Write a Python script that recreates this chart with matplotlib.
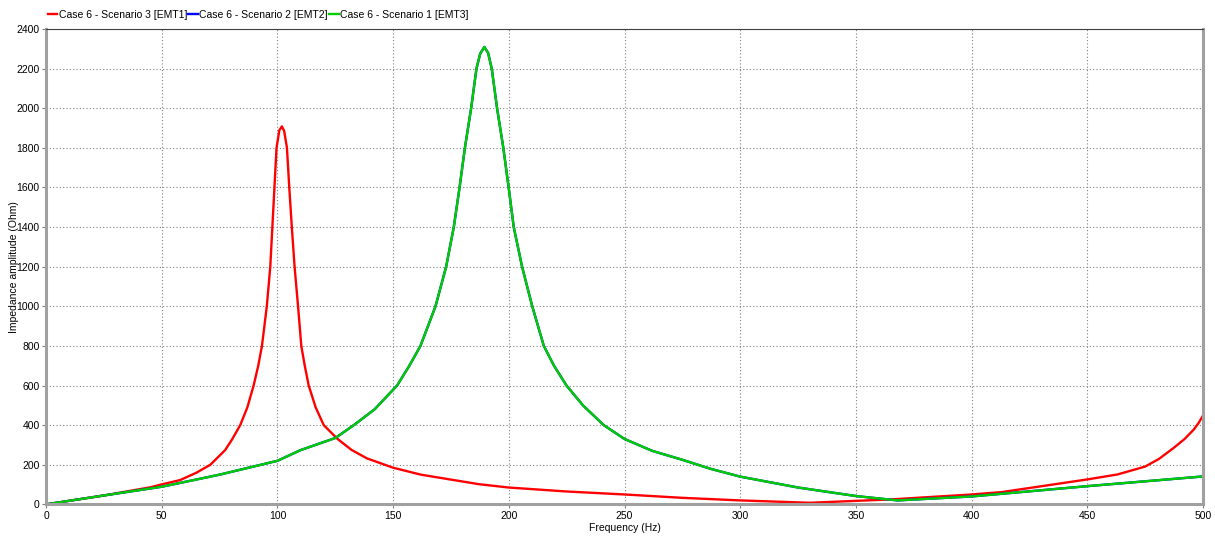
import matplotlib.pyplot as plt

plt.rcParams['font.family'] = ['Liberation Sans', 'DejaVu Sans']

# Impedance scans, read per scenario (Hz, Ohm)
freq_s3 = [0, 25, 45, 50, 58, 65, 71, 77.4, 80.5, 83.9, 87, 89.7, 91.7, 93.3,
           95.4, 96.9, 97.8, 98.7, 99.6, 100.8, 101.9, 102.9, 104.1, 105.1,
           106.2, 107.4, 108.9, 110.3, 111.8, 113.5, 116.5, 120, 126, 132,
           138.7, 150, 162, 175, 187, 200, 225, 250, 275, 300, 330, 365,
           400, 413, 450, 463, 475, 481, 487.5, 492, 496, 498, 500]
imp_s3 = [0, 45, 86, 101, 123, 160, 200, 274, 330, 400, 490, 600, 700, 800,
          1000, 1200, 1400, 1600, 1800, 1888, 1908, 1885, 1800, 1600,
          1400, 1200, 1000, 800, 700, 600, 490, 400, 330, 275,
          232, 185, 150, 125, 102, 85, 65, 50, 33, 20, 8, 25,
          50, 62, 126, 151, 191, 230, 287, 330, 378, 410, 449]

freq_s1 = [0, 25, 50, 75, 100, 110, 125, 133, 142, 151.7, 157, 161.8, 168.3,
           172.9, 176.2, 178.7, 181, 183.7, 186, 187.6, 189.4, 191, 192.6,
           194.9, 197.6, 199.9, 202.1, 205.7, 210.1, 215.1, 219.5, 224.9,
           232, 241, 250, 262, 275, 287, 300, 325, 350, 368, 400, 450, 500]
imp_s1 = [0, 45, 89, 150, 220, 274, 335, 400, 480, 600, 700, 800, 1000,
          1200, 1400, 1600, 1800, 2000, 2200, 2275, 2309, 2280, 2200,
          2000, 1800, 1600, 1400, 1200, 1000, 800, 700, 600,
          500, 400, 330, 270, 225, 180, 140, 85, 42, 20, 40, 92, 141]

# scenario 2 follows scenario 1 over the whole range
freq_s2 = list(freq_s1)
imp_s2 = list(imp_s1)

labels = ['Case 6 - Scenario 3 [EMT1]', 'Case 6 - Scenario 2 [EMT2]',
          'Case 6 - Scenario 1 [EMT3]']

fig = plt.figure(figsize=(12.15, 5.36), dpi=100)
ax = fig.add_axes([0.0379, 0.059, 0.9523, 0.887])

ax.plot(freq_s3, imp_s3, color='#ff0000', lw=1.7, label=labels[0])
ax.plot(freq_s2, imp_s2, color='#0000ff', lw=1.7, label=labels[1])
ax.plot(freq_s1, imp_s1, color='#00cc00', lw=1.7, label=labels[2])

ax.set_xlim(0, 500)
ax.set_ylim(0, 2400)
ax.set_xticks(range(0, 501, 50))
ax.set_yticks(range(0, 2401, 200))
ax.grid(True, color='#808080', linestyle=(0, (1, 2)), linewidth=0.8)

for side in ['left', 'bottom', 'right']:
    ax.spines[side].set_color('#a0a0a0')
    ax.spines[side].set_linewidth(2.2)
ax.spines['top'].set_color('#404040')
ax.spines['top'].set_linewidth(0.8)

ax.tick_params(axis='both', labelsize=7.5, length=3, width=0.8,
               color='#808080', pad=1.5)
ax.set_xlabel('Frequency (Hz)', fontsize=7.5, labelpad=2)
ax.set_ylabel('Impedance amplitude (Ohm)', fontsize=7.5, labelpad=-1.5)

fig.legend(loc='upper left', bbox_to_anchor=(0.034, 0.993), ncol=3,
           frameon=False, fontsize=7.5, handlelength=0.95, handletextpad=0.15,
           columnspacing=0.05, borderaxespad=0.2)

fig.savefig('out.png', dpi=100)
